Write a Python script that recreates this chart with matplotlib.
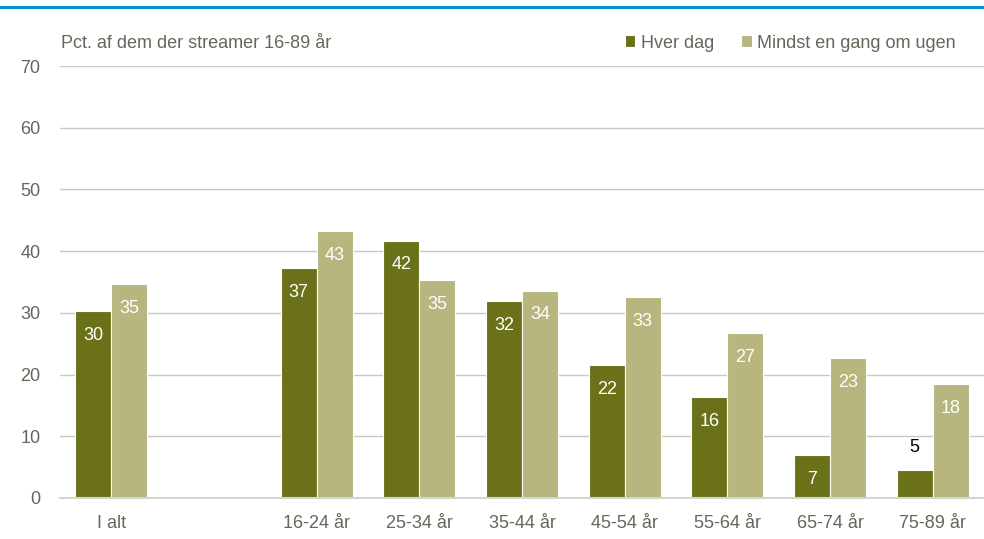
import matplotlib
matplotlib.use("Agg")
import matplotlib.pyplot as plt
import numpy as np
from matplotlib.font_manager import fontManager

categories = ["I alt", "", "16-24 år", "25-34 år", "35-44 år", "45-54 år", "55-64 år", "65-74 år", "75-89 år"]
hver_dag = [30.3, np.nan, 37.3, 41.7, 31.9, 21.5, 16.3, 6.9, 4.6]
mindst_ugen = [34.7, np.nan, 43.3, 35.3, 33.6, 32.6, 26.7, 22.7, 18.4]
series_names = ["Hver dag", "Mindst en gang om ugen"]
yticks = [0, 10, 20, 30, 40, 50, 60, 70]

names = {f.name for f in fontManager.ttflist}
fam = ["Liberation Sans Narrow", "Liberation Sans", "DejaVu Sans"]
fam = [f for f in fam if f in names] + ["DejaVu Sans"]
plt.rcParams["font.family"] = fam

dark = "#6b7119"
light = "#b7b67f"
txt = "#66665a"
grid = "#c9c9bd"

fig = plt.figure(figsize=(9.84, 5.39), dpi=100)
ax = fig.add_axes([60 / 984, 1 - 498 / 539, (984 - 60) / 984, (498 - 66) / 539])

x = np.arange(len(categories))
w = 0.35
b1 = ax.bar(x - w / 2, hver_dag, w, color=dark, edgecolor="white", linewidth=0.8, zorder=3, label=series_names[0])
b2 = ax.bar(x + w / 2, mindst_ugen, w, color=light, edgecolor="white", linewidth=0.8, zorder=3, label=series_names[1])

for bars, vals in ((b1, hver_dag), (b2, mindst_ugen)):
    for rect, v in zip(bars, vals):
        if np.isnan(v):
            continue
        cx = rect.get_x() + rect.get_width() / 2
        lab = f"{int(round(v))}"
        if v < 6:
            ax.annotate(lab, (cx, v), xytext=(0, 16), textcoords="offset points",
                        ha="center", va="center", fontsize=13, color="black", zorder=4)
        else:
            ax.annotate(lab, (cx, v), xytext=(0, -17.5), textcoords="offset points",
                        ha="center", va="center", fontsize=13, color="white", zorder=4)

ax.set_xlim(-0.5, len(categories) - 0.5)
ax.set_ylim(0, 70)
ax.set_yticks(yticks)
ax.set_yticklabels([str(t) for t in yticks], fontsize=13, color=txt)
ax.set_xticks(x)
ax.set_xticklabels(categories, fontsize=13, color=txt)
ax.tick_params(axis="both", length=0)
ax.tick_params(axis="y", pad=14)
ax.tick_params(axis="x", pad=12)
ax.yaxis.grid(True, color=grid, linewidth=1.0, zorder=0)
ax.set_axisbelow(True)
for s in ["top", "right", "left"]:
    ax.spines[s].set_visible(False)
ax.spines["bottom"].set_color("#d4d4d0")
ax.spines["bottom"].set_linewidth(1.5)
ax.spines["bottom"].set_zorder(5)

fig.text(61 / 984, 1 - 43 / 539, "Pct. af dem der streamer 16-89 år", fontsize=13, color=txt, va="center", ha="left")

leg = fig.legend(handles=[b1, b2], loc="center right", bbox_to_anchor=(956 / 984, 1 - 43 / 539),
                 ncol=2, frameon=False, fontsize=13, handlelength=0.6, handleheight=0.6,
                 handletextpad=0.3, columnspacing=1.5, borderaxespad=0, borderpad=0)
for t in leg.get_texts():
    t.set_color(txt)

fig.add_artist(plt.Line2D([0, 1], [1 - 6.5 / 539, 1 - 6.5 / 539], color="#0a8fd0", linewidth=2.2, transform=fig.transFigure))

fig.savefig("out.png", dpi=100)
